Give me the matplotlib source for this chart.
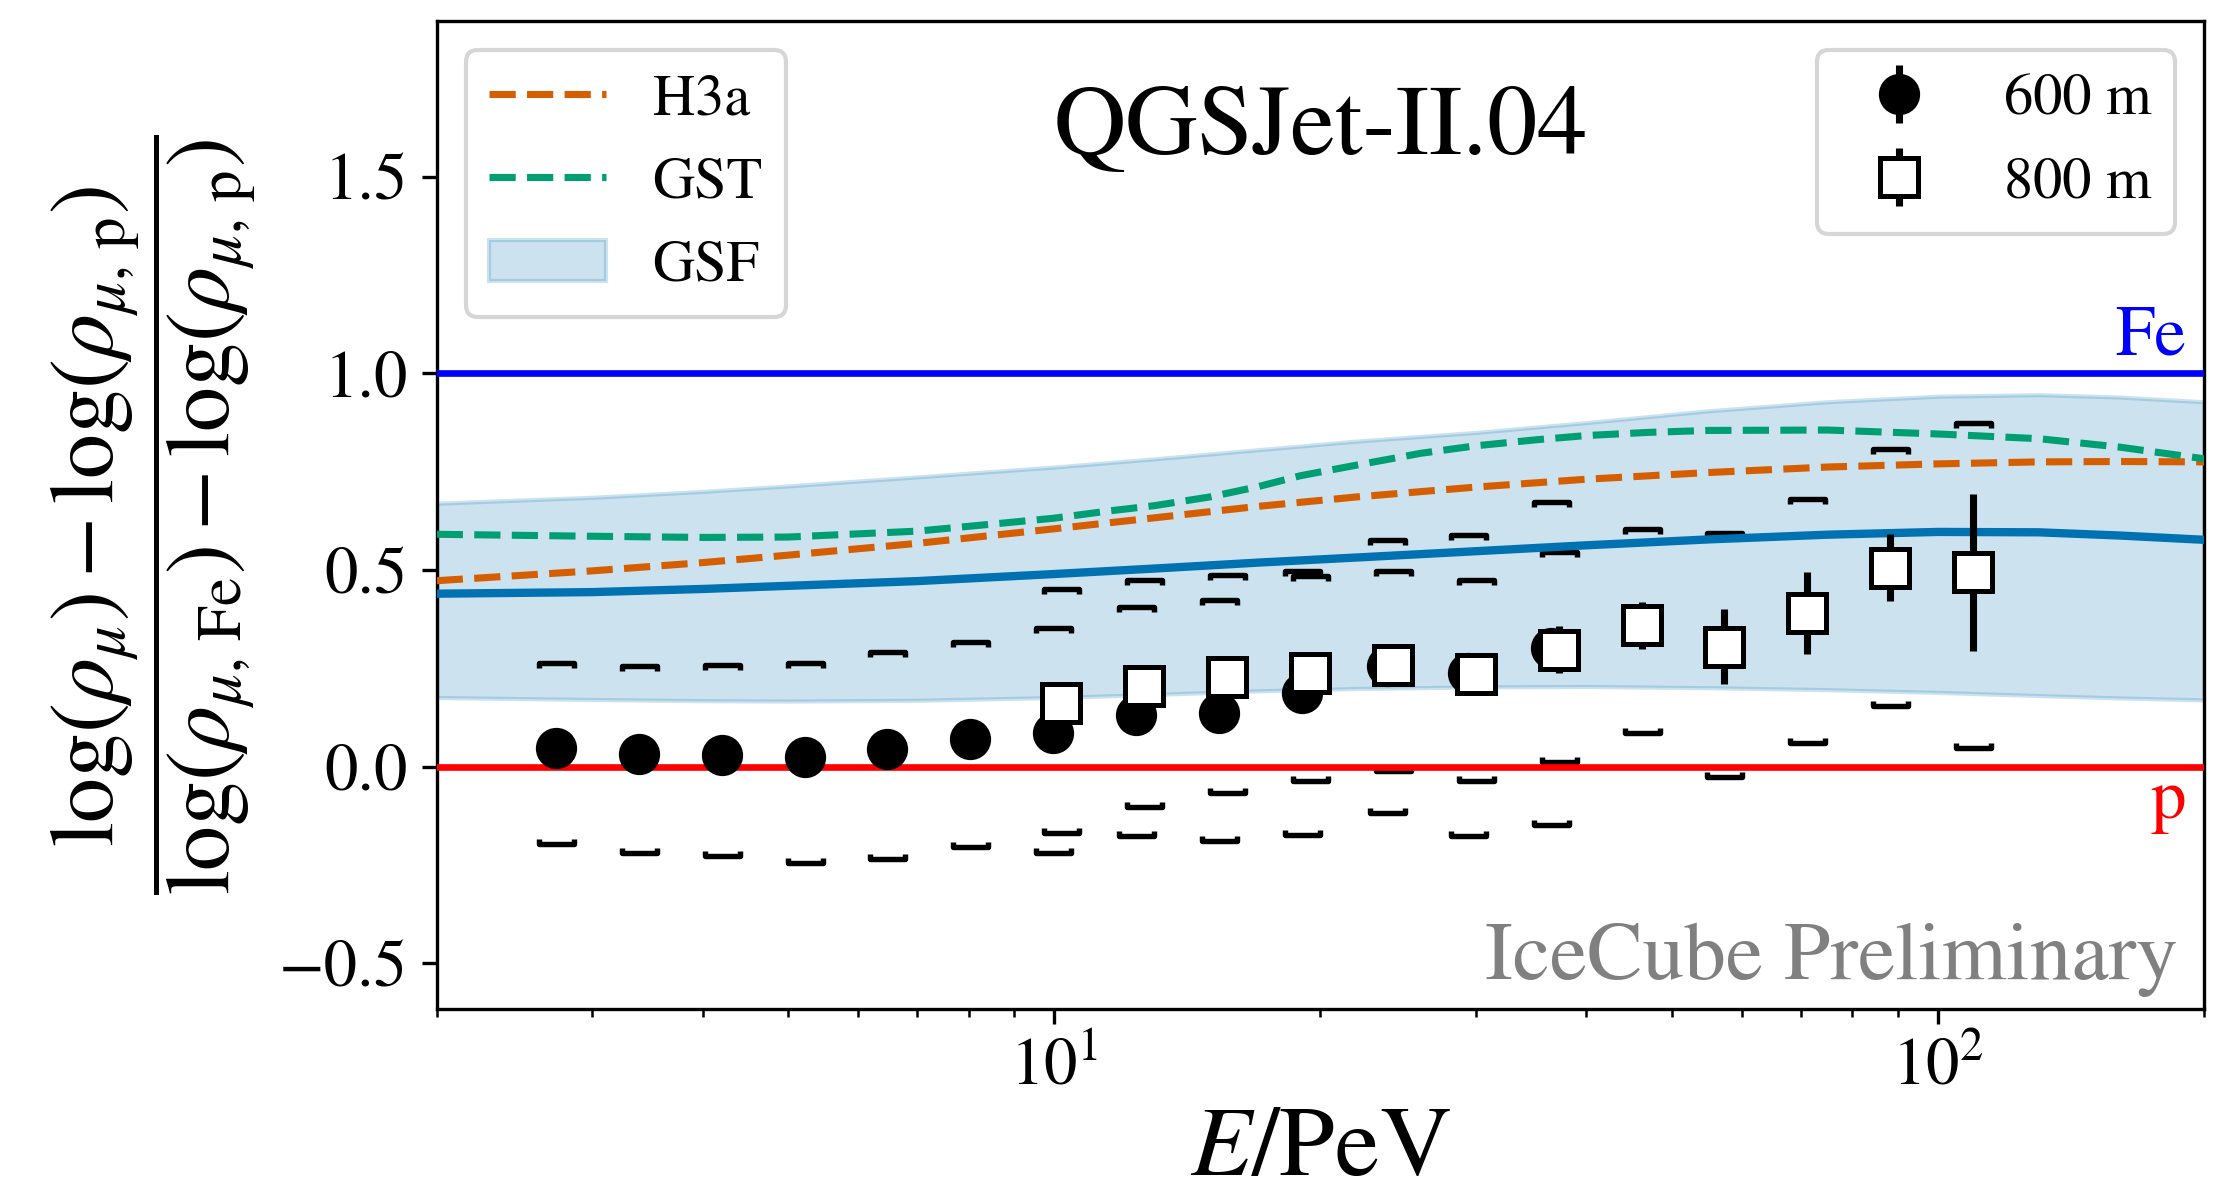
import numpy as np
import matplotlib
matplotlib.use('Agg')
import matplotlib.pyplot as plt
from matplotlib.path import Path

plt.rcParams['font.family'] = 'STIXGeneral'
plt.rcParams['mathtext.fontset'] = 'stix'

# model predictions on a common energy grid (PeV)
E_model = [2.0, 3.0, 4.0, 5.0, 7.0, 10.0, 13.0, 17.0, 22.0, 30.0, 40.0, 55.0, 75.0, 100.0, 130.0, 160.0, 200.0]
h3a = [0.473, 0.498, 0.519, 0.538, 0.568, 0.605, 0.633, 0.662, 0.686, 0.711, 0.731, 0.748, 0.762, 0.770, 0.775, 0.776, 0.775]
gsf = [0.440, 0.444, 0.452, 0.460, 0.472, 0.490, 0.504, 0.519, 0.532, 0.548, 0.563, 0.578, 0.590, 0.597, 0.596, 0.588, 0.577]
gsf_lo = [0.176, 0.171, 0.168, 0.167, 0.169, 0.176, 0.184, 0.193, 0.199, 0.203, 0.204, 0.201, 0.196, 0.189, 0.181, 0.175, 0.170]
gsf_hi = [0.670, 0.685, 0.700, 0.714, 0.737, 0.762, 0.783, 0.806, 0.828, 0.850, 0.875, 0.905, 0.928, 0.942, 0.946, 0.940, 0.928]

# GST has a steeper knee, so it gets a finer grid
E_gst = [2.0, 3.0, 4.0, 5.0, 7.0, 8.7, 10.0, 11.5, 13.0, 15.0, 17.0, 19.0, 22.0, 26.0, 30.0,
         35.0, 40.0, 47.0, 55.0, 75.0, 100.0, 130.0, 160.0, 200.0]
gst = [0.591, 0.586, 0.583, 0.584, 0.599, 0.619, 0.632, 0.650, 0.664, 0.686, 0.712, 0.740, 0.767, 0.797, 0.816,
       0.831, 0.842, 0.850, 0.855, 0.856, 0.846, 0.834, 0.813, 0.783]

# 600 m muon density
E_600 = [2.730, 3.386, 4.204, 5.217, 6.471, 8.034, 9.97, 12.38, 15.37, 19.08, 23.76, 29.35, 36.51]
z_600 = [0.047, 0.032, 0.029, 0.025, 0.044, 0.071, 0.085, 0.131, 0.137, 0.187, 0.257, 0.239, 0.301]
zerr_600 = [0.01, 0.01, 0.01, 0.01, 0.01, 0.01, 0.01, 0.012, 0.012, 0.015, 0.015, 0.02, 0.02]
sys_hi_600 = [0.265, 0.257, 0.259, 0.263, 0.291, 0.316, 0.353, 0.405, 0.425, 0.498, 0.577, 0.590, 0.673]
sys_lo_600 = [-0.197, -0.218, -0.227, -0.244, -0.235, -0.205, -0.218, -0.176, -0.188, -0.174, -0.117, -0.177, -0.149]

# 800 m muon density
E_800 = [10.18, 12.64, 15.68, 19.45, 24.15, 29.98, 37.21, 46.20, 57.32, 71.15, 88.31, 109.5]
z_800 = [0.163, 0.206, 0.229, 0.239, 0.258, 0.236, 0.298, 0.360, 0.305, 0.391, 0.506, 0.494]
zerr_800 = [0.02, 0.02, 0.02, 0.025, 0.03, 0.03, 0.06, 0.06, 0.095, 0.105, 0.085, 0.20]
sys_hi_800 = [0.451, 0.475, 0.487, 0.485, 0.498, 0.475, 0.545, 0.604, 0.593, 0.680, 0.809, 0.873]
sys_lo_800 = [-0.169, -0.103, -0.066, -0.036, -0.010, -0.036, 0.011, 0.085, -0.025, 0.060, 0.154, 0.047]

# bracket markers for the systematic band edges
cap_hi = Path([(-1, -0.3), (-1, 0), (1, 0), (1, -0.3)],
              [Path.MOVETO, Path.LINETO, Path.LINETO, Path.LINETO])
cap_lo = Path([(-1, 0.3), (-1, 0), (1, 0), (1, 0.3)],
              [Path.MOVETO, Path.LINETO, Path.LINETO, Path.LINETO])

fig = plt.figure(figsize=(2227 / 300, 1197 / 300), dpi=300)
ax = fig.add_axes([0.1961, 0.1573, 0.7936, 0.8249])

band = ax.fill_between(E_model, gsf_lo, gsf_hi, color='#0072B2', alpha=0.2, lw=1.0, zorder=1, label='GSF')
ax.plot(E_model, gsf, color='#0072B2', lw=2.0, zorder=3)
l_h3a, = ax.plot(E_model, h3a, color='#D55E00', ls='--', lw=1.7, zorder=3, label='H3a')
l_gst, = ax.plot(E_gst, gst, color='#009E73', ls='--', lw=1.7, zorder=3, label='GST')

ax.axhline(1.0, color='blue', lw=1.6, zorder=3)
ax.axhline(0.0, color='red', lw=1.6, zorder=3)

for E, lo, hi in [(E_600, sys_lo_600, sys_hi_600), (E_800, sys_lo_800, sys_hi_800)]:
    ax.plot(E, hi, ls='none', marker=cap_hi, ms=8.4, mew=1.3, mec='k', fillstyle='none', zorder=2)
    ax.plot(E, lo, ls='none', marker=cap_lo, ms=8.4, mew=1.3, mec='k', fillstyle='none', zorder=2)

d600 = ax.errorbar(E_600, z_600, yerr=zerr_600, fmt='o', color='k', ms=8.9,
                   elinewidth=1.7, capsize=0, zorder=5, label='600 m')
d800 = ax.errorbar(E_800, z_800, yerr=zerr_800, fmt='s', color='k', mfc='white', mec='k',
                   ms=8.9, mew=1.2, elinewidth=1.7, capsize=0, zorder=6, label='800 m')

ax.set_xscale('log')
ax.set_xlim(2, 200)
ax.set_ylim(-0.615, 1.895)
ax.tick_params(labelsize=16)

ax.set_xlabel(r'$E/\mathrm{PeV}$', fontsize=24, labelpad=2)
ax.set_ylabel(r'$\dfrac{\log(\rho_{\mu})-\log(\rho_{\mu,\,\mathrm{p}})}'
              r'{\log(\rho_{\mu,\,\mathrm{Fe}})-\log(\rho_{\mu,\,\mathrm{p}})}$', fontsize=21.5, labelpad=5)

ax.text(0.5, 0.935, 'QGSJet-II.04', transform=ax.transAxes, ha='center', va='top', fontsize=24)
ax.text(0.985, 0.012, 'IceCube Preliminary', transform=ax.transAxes, ha='right', va='bottom',
        fontsize=20, color='gray')
ax.text(0.99, 1.049, 'Fe', transform=ax.get_yaxis_transform(), ha='right', va='baseline',
        fontsize=17, color='blue')
ax.text(0.99, -0.129, 'p', transform=ax.get_yaxis_transform(), ha='right', va='baseline',
        fontsize=17, color='red')

leg1 = ax.legend(handles=[l_h3a, l_gst, band], loc='upper left', fontsize=14)
ax.add_artist(leg1)
ax.legend(handles=[d600, d800], loc='upper right', fontsize=14)

fig.savefig('out.png', dpi=300)
